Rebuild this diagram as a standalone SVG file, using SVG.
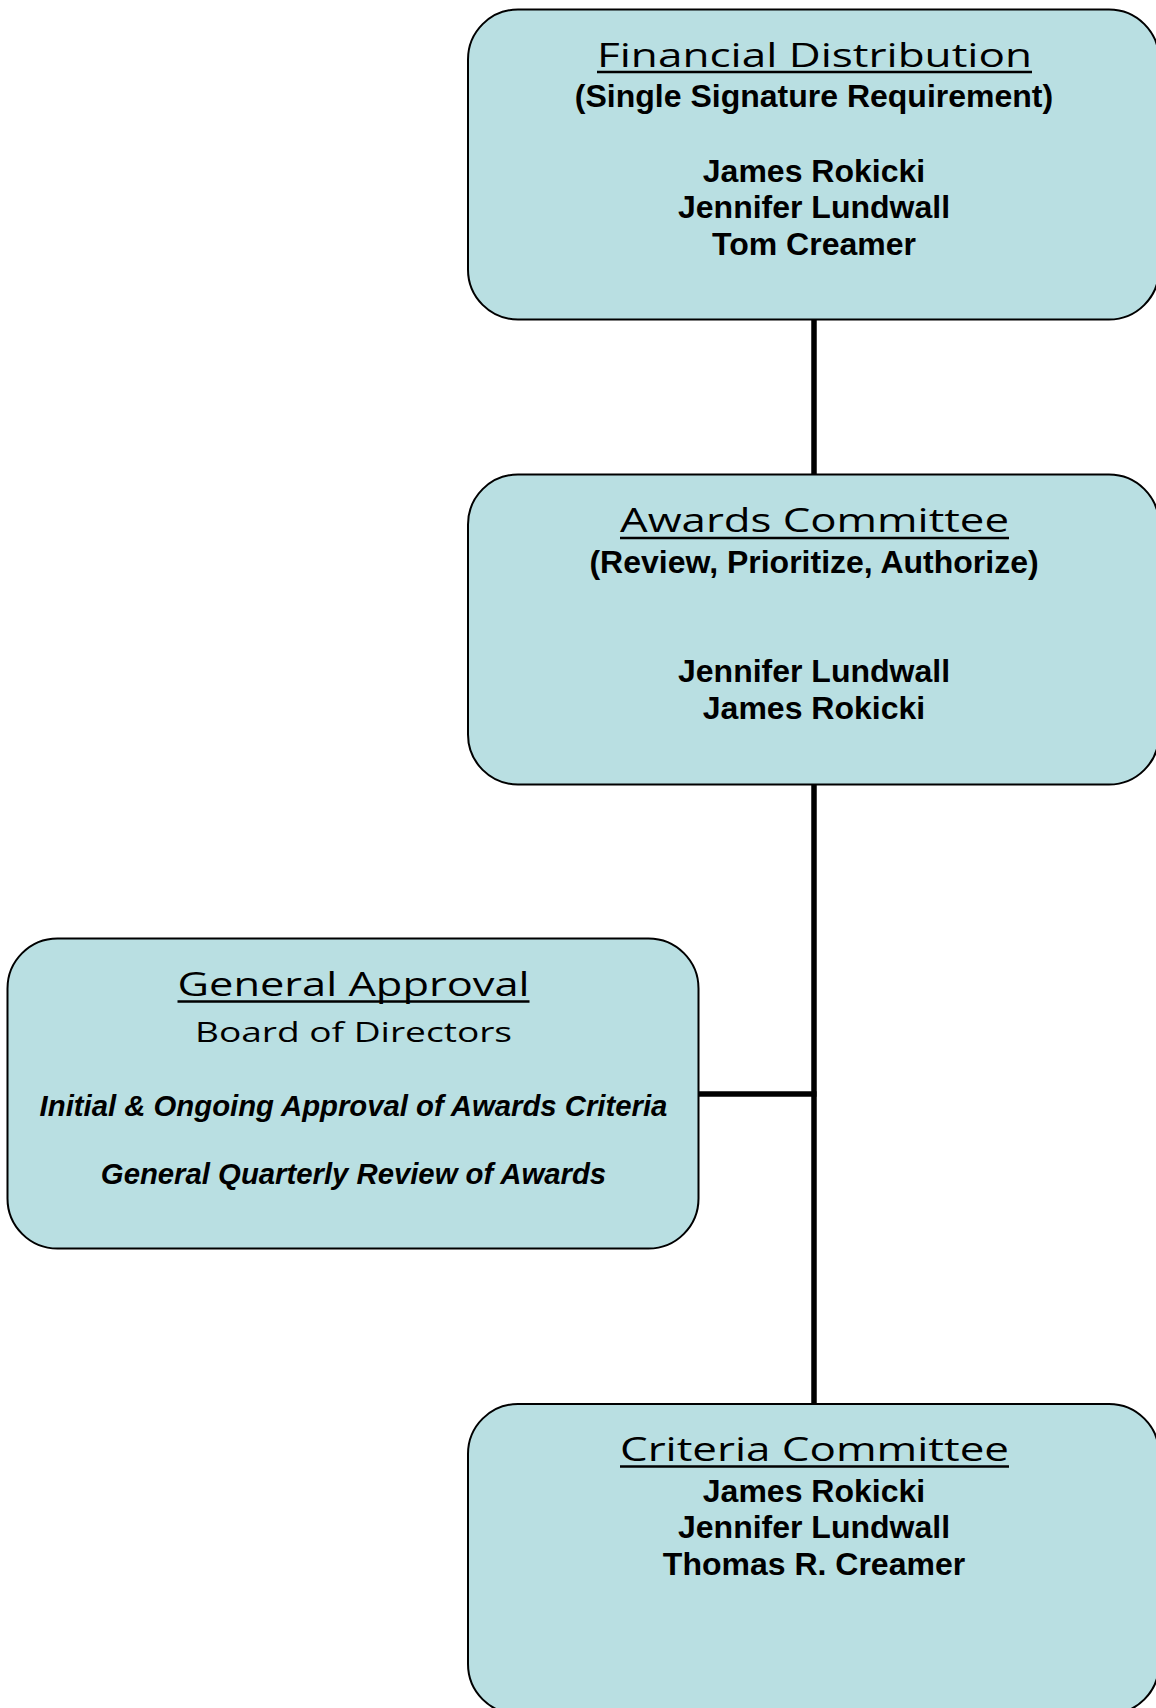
<svg xmlns="http://www.w3.org/2000/svg" width="1156" height="1708" viewBox="0 0 1156 1708">
<style>
.box{fill:#B9DFE2;stroke:#000;stroke-width:2}
.conn{stroke:#000;stroke-width:5.5;fill:none}
.title{font-family:"Open Sans","DejaVu Sans",sans-serif;font-weight:normal;font-size:33px;fill:#000;text-anchor:middle}
.sub{font-family:"Open Sans","DejaVu Sans",sans-serif;font-weight:normal;font-size:28px;fill:#000;text-anchor:middle}
.b{font-family:"Liberation Sans",Arial,sans-serif;font-weight:bold;font-size:32px;fill:#000;text-anchor:middle}
.bi{font-family:"Liberation Sans",Arial,sans-serif;font-weight:bold;font-style:italic;font-size:29.3px;fill:#000;text-anchor:middle}
.ul{stroke:#000;stroke-width:2.5}
</style>
<rect width="1156" height="1708" fill="#fff"/>
<g id="connectors">
<line class="conn" x1="814" y1="319" x2="814" y2="475"/>
<line class="conn" x1="814" y1="783" x2="814" y2="1405"/>
<line class="conn" x1="698" y1="1094" x2="816.5" y2="1094"/>
</g>
<g id="financial-distribution">
<rect class="box" x="468" y="9.5" width="691" height="310" rx="50" ry="50"/>
<text class="title" x="814.5" y="67" textLength="435" lengthAdjust="spacingAndGlyphs">Financial Distribution</text>
<line class="ul" x1="597" y1="72" x2="1032" y2="72"/>
<text class="b" x="814" y="107">(Single Signature Requirement)</text>
<text class="b" x="814" y="181.5">James Rokicki</text>
<text class="b" x="814" y="218">Jennifer Lundwall</text>
<text class="b" x="814" y="254.5">Tom Creamer</text>
</g>
<g id="awards-committee">
<rect class="box" x="468" y="474.5" width="691" height="310" rx="50" ry="50"/>
<text class="title" x="814.5" y="532" textLength="389" lengthAdjust="spacingAndGlyphs">Awards Committee</text>
<line class="ul" x1="620" y1="538" x2="1009" y2="538"/>
<text class="b" x="814" y="572.5">(Review, Prioritize, Authorize)</text>
<text class="b" x="814" y="682">Jennifer Lundwall</text>
<text class="b" x="814" y="718.5">James Rokicki</text>
</g>
<g id="general-approval">
<rect class="box" x="7.5" y="938.5" width="691" height="310" rx="50" ry="50"/>
<text class="title" x="353.5" y="995.5" textLength="352" lengthAdjust="spacingAndGlyphs">General Approval</text>
<line class="ul" x1="177.5" y1="1001.5" x2="529.5" y2="1001.5"/>
<text class="sub" x="353.5" y="1041.5" textLength="317" lengthAdjust="spacingAndGlyphs">Board of Directors</text>
<text class="bi" x="353.5" y="1115.5">Initial &amp; Ongoing Approval of Awards Criteria</text>
<text class="bi" x="353.5" y="1184">General Quarterly Review of Awards</text>
</g>
<g id="criteria-committee">
<rect class="box" x="468" y="1404" width="691" height="310" rx="50" ry="50"/>
<text class="title" x="814.5" y="1460.5" textLength="389" lengthAdjust="spacingAndGlyphs">Criteria Committee</text>
<line class="ul" x1="620" y1="1466.5" x2="1009" y2="1466.5"/>
<text class="b" x="814" y="1501.5">James Rokicki</text>
<text class="b" x="814" y="1538">Jennifer Lundwall</text>
<text class="b" x="814" y="1574.5">Thomas R. Creamer</text>
</g>
</svg>
